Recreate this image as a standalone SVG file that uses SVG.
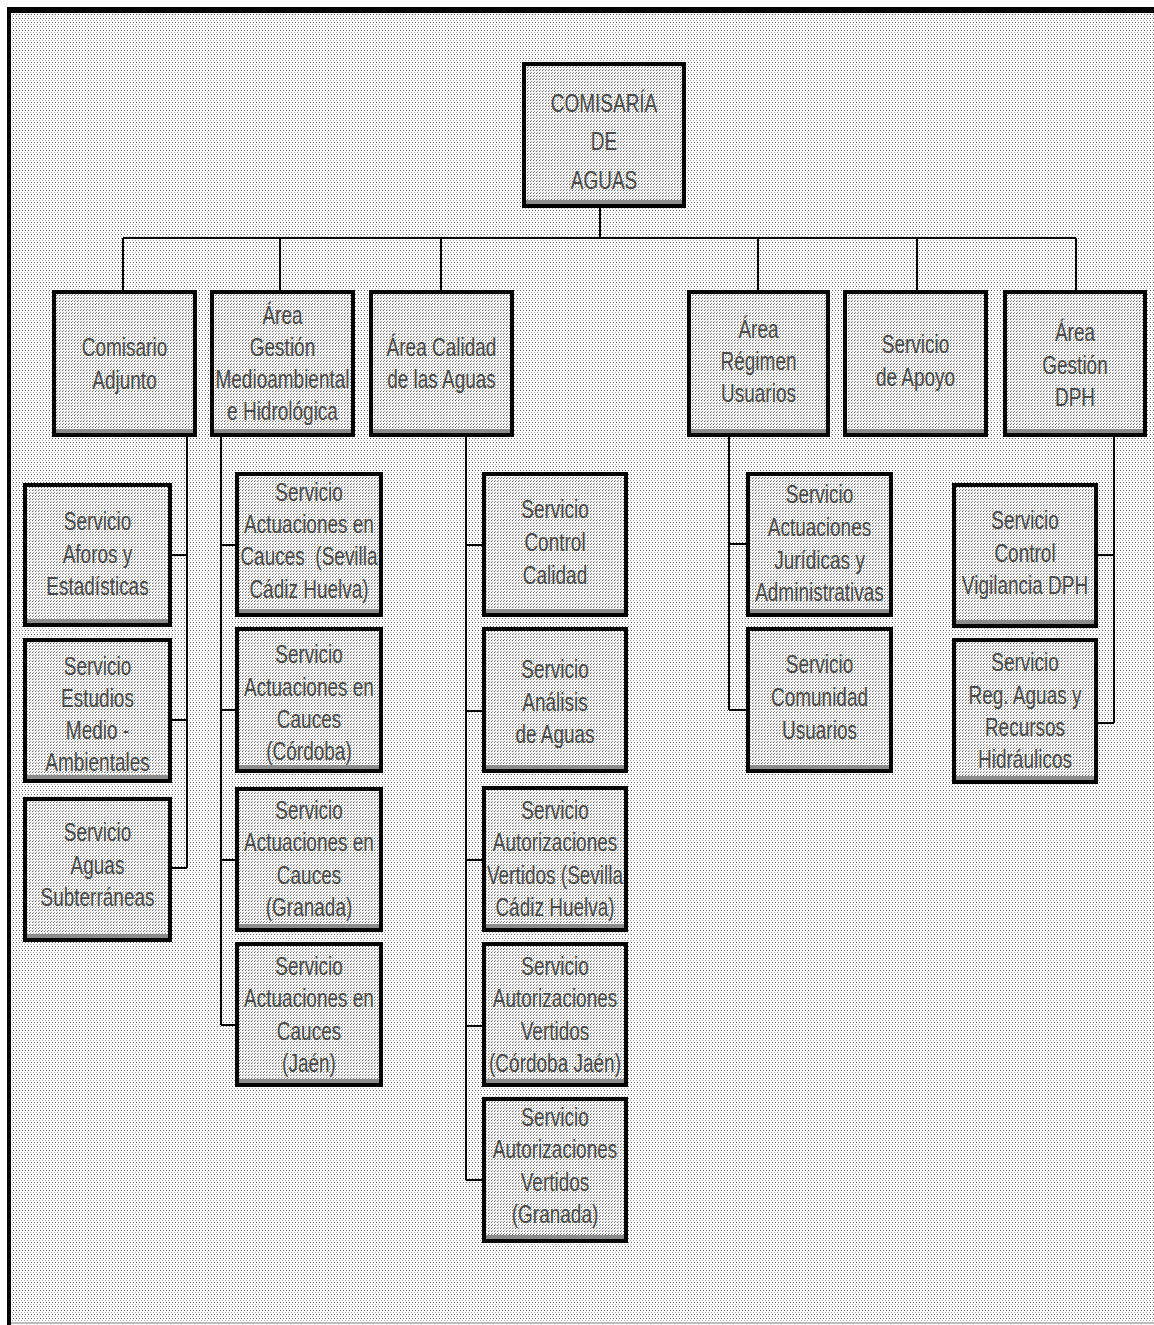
<svg xmlns="http://www.w3.org/2000/svg" width="1154" height="1325" viewBox="0 0 1154 1325">
  <defs>
    <!-- dotted halftone used for the sheet background -->
    <pattern id="dots" width="3" height="4" patternUnits="userSpaceOnUse">
      <rect width="3" height="4" fill="#ffffff"/>
      <rect x="0" y="0" width="1" height="1" fill="#a8a8a8"/>
      <rect x="1" y="2" width="1" height="1" fill="#5a5a5a"/>
    </pattern>
    <!-- denser halftone for box interiors -->
    <pattern id="boxdots" width="3" height="3" patternUnits="userSpaceOnUse">
      <rect width="3" height="3" fill="#f4f4f4"/>
      <rect x="0" y="0" width="1" height="1" fill="#9a9a9a"/>
      <rect x="2" y="1" width="1" height="1" fill="#6a6a6a"/>
    </pattern>
  </defs>
  <style>
    .box { fill: url(#boxdots); stroke: #000; stroke-width: 4; }
    .shade { fill: #8c8c8c; }
    .lbl { font-family: "Liberation Sans", Arial, sans-serif; font-size: 25px; fill: #4a4a4a; text-anchor: middle; }
    .conn { fill: none; stroke: #000; stroke-width: 2; }
  </style>

  <!-- sheet -->
  <rect x="0" y="0" width="1154" height="1325" fill="#ffffff"/>
  <rect x="11" y="13" width="1143" height="1310" fill="url(#dots)"/>
  <rect x="7" y="7" width="1147" height="6" fill="#000"/>
  <rect x="7" y="7" width="4" height="1318" fill="#000"/>
  <rect x="11" y="1322" width="1143" height="2" fill="#bbb"/>

  <!-- connectors -->
  <g id="connectors" class="conn">
    <path d="M600 208 V238 M123 238 H1076"/>
    <path d="M123 238 V290 M280 238 V290 M441 238 V290 M758 238 V290 M917 238 V290 M1076 238 V290"/>
    <path d="M187 437 V868 M172 555 H187 M172 720 H187 M172 868 H187"/>
    <path d="M221 437 V1025 M221 545 H235 M221 710 H235 M221 860 H235 M221 1025 H235"/>
    <path d="M466 437 V1180 M466 545 H482 M466 711 H482 M466 860 H482 M466 1026 H482 M466 1180 H482"/>
    <path d="M729 437 V710 M729 544 H746 M729 710 H746"/>
    <path d="M1114 437 V723 M1098 555 H1114 M1098 723 H1114"/>
  </g>

  <!-- top node -->
  <g id="comisaria">
    <rect class="box" x="524" y="64" width="160" height="142"/>
    <rect class="shade" x="526" y="200" width="156" height="4"/>
    <text class="lbl" transform="matrix(0.76 0 0 1 604 0)"><tspan x="0" y="112">COMISARÍA</tspan><tspan x="0" y="150">DE</tspan><tspan x="0" y="189">AGUAS</tspan></text>
  </g>

  <!-- second level -->
  <g id="comisario-adjunto">
    <rect class="box" x="54" y="292" width="141" height="143"/>
    <rect class="shade" x="56" y="429" width="137" height="4"/>
    <text class="lbl" transform="matrix(0.76 0 0 1 124.5 0)"><tspan x="0" y="356">Comisario</tspan><tspan x="0" y="389">Adjunto</tspan></text>
  </g>
  <g id="area-gestion-medioambiental">
    <rect class="box" x="212" y="292" width="141" height="143"/>
    <rect class="shade" x="214" y="429" width="137" height="4"/>
    <text class="lbl" transform="matrix(0.76 0 0 1 282.5 0)"><tspan x="0" y="324">Área</tspan><tspan x="0" y="356">Gestión</tspan><tspan x="0" y="388">Medioambiental</tspan><tspan x="0" y="420">e Hidrológica</tspan></text>
  </g>
  <g id="area-calidad">
    <rect class="box" x="371" y="292" width="141" height="143"/>
    <rect class="shade" x="373" y="429" width="137" height="4"/>
    <text class="lbl" transform="matrix(0.76 0 0 1 441.5 0)"><tspan x="0" y="356">Área Calidad</tspan><tspan x="0" y="388">de las Aguas</tspan></text>
  </g>
  <g id="area-regimen-usuarios">
    <rect class="box" x="689" y="292" width="139" height="143"/>
    <rect class="shade" x="691" y="429" width="135" height="4"/>
    <text class="lbl" transform="matrix(0.76 0 0 1 758.5 0)"><tspan x="0" y="338">Área</tspan><tspan x="0" y="370">Régimen</tspan><tspan x="0" y="402">Usuarios</tspan></text>
  </g>
  <g id="servicio-apoyo">
    <rect class="box" x="845" y="292" width="141" height="143"/>
    <rect class="shade" x="847" y="429" width="137" height="4"/>
    <text class="lbl" transform="matrix(0.76 0 0 1 915.5 0)"><tspan x="0" y="353">Servicio</tspan><tspan x="0" y="386">de Apoyo</tspan></text>
  </g>
  <g id="area-gestion-dph">
    <rect class="box" x="1005" y="292" width="140" height="143"/>
    <rect class="shade" x="1007" y="429" width="136" height="4"/>
    <text class="lbl" transform="matrix(0.76 0 0 1 1075 0)"><tspan x="0" y="341">Área</tspan><tspan x="0" y="374">Gestión</tspan><tspan x="0" y="406">DPH</tspan></text>
  </g>

  <!-- under Comisario Adjunto -->
  <g id="serv-aforos">
    <rect class="box" x="25" y="485" width="145" height="140"/>
    <rect class="shade" x="27" y="619" width="141" height="4"/>
    <text class="lbl" transform="matrix(0.76 0 0 1 97.5 0)"><tspan x="0" y="530">Servicio</tspan><tspan x="0" y="563">Aforos y</tspan><tspan x="0" y="595">Estadísticas</tspan></text>
  </g>
  <g id="serv-estudios">
    <rect class="box" x="25" y="640" width="145" height="141"/>
    <rect class="shade" x="27" y="775" width="141" height="4"/>
    <text class="lbl" transform="matrix(0.76 0 0 1 97.5 0)"><tspan x="0" y="675">Servicio</tspan><tspan x="0" y="707">Estudios</tspan><tspan x="0" y="739">Medio -</tspan><tspan x="0" y="771">Ambientales</tspan></text>
  </g>
  <g id="serv-subterraneas">
    <rect class="box" x="25" y="799" width="145" height="141"/>
    <rect class="shade" x="27" y="934" width="141" height="4"/>
    <text class="lbl" transform="matrix(0.76 0 0 1 97.5 0)"><tspan x="0" y="841">Servicio</tspan><tspan x="0" y="874">Aguas</tspan><tspan x="0" y="906">Subterráneas</tspan></text>
  </g>

  <!-- under Área Gestión Medioambiental -->
  <g id="serv-cauces-sevilla">
    <rect class="box" x="237" y="474" width="144" height="141"/>
    <rect class="shade" x="239" y="609" width="140" height="4"/>
    <text class="lbl" transform="matrix(0.76 0 0 1 309 0)"><tspan x="0" y="501">Servicio</tspan><tspan x="0" y="533">Actuaciones en</tspan><tspan x="0" y="565">Cauces&#160; (Sevilla</tspan><tspan x="0" y="598">Cádiz Huelva)</tspan></text>
  </g>
  <g id="serv-cauces-cordoba">
    <rect class="box" x="237" y="629" width="144" height="142"/>
    <rect class="shade" x="239" y="765" width="140" height="4"/>
    <text class="lbl" transform="matrix(0.76 0 0 1 309 0)"><tspan x="0" y="663">Servicio</tspan><tspan x="0" y="696">Actuaciones en</tspan><tspan x="0" y="728">Cauces</tspan><tspan x="0" y="760">(Córdoba)</tspan></text>
  </g>
  <g id="serv-cauces-granada">
    <rect class="box" x="237" y="789" width="144" height="141"/>
    <rect class="shade" x="239" y="924" width="140" height="4"/>
    <text class="lbl" transform="matrix(0.76 0 0 1 309 0)"><tspan x="0" y="819">Servicio</tspan><tspan x="0" y="851">Actuaciones en</tspan><tspan x="0" y="884">Cauces</tspan><tspan x="0" y="916">(Granada)</tspan></text>
  </g>
  <g id="serv-cauces-jaen">
    <rect class="box" x="237" y="944" width="144" height="141"/>
    <rect class="shade" x="239" y="1079" width="140" height="4"/>
    <text class="lbl" transform="matrix(0.76 0 0 1 309 0)"><tspan x="0" y="975">Servicio</tspan><tspan x="0" y="1007">Actuaciones en</tspan><tspan x="0" y="1040">Cauces</tspan><tspan x="0" y="1072">(Jaén)</tspan></text>
  </g>

  <!-- under Área Calidad de las Aguas -->
  <g id="serv-control-calidad">
    <rect class="box" x="484" y="474" width="142" height="141"/>
    <rect class="shade" x="486" y="609" width="138" height="4"/>
    <text class="lbl" transform="matrix(0.76 0 0 1 555 0)"><tspan x="0" y="518">Servicio</tspan><tspan x="0" y="551">Control</tspan><tspan x="0" y="584">Calidad</tspan></text>
  </g>
  <g id="serv-analisis">
    <rect class="box" x="484" y="629" width="142" height="142"/>
    <rect class="shade" x="486" y="765" width="138" height="4"/>
    <text class="lbl" transform="matrix(0.76 0 0 1 555 0)"><tspan x="0" y="678">Servicio</tspan><tspan x="0" y="711">Análisis</tspan><tspan x="0" y="743">de Aguas</tspan></text>
  </g>
  <g id="serv-vertidos-sevilla">
    <rect class="box" x="484" y="788" width="142" height="142"/>
    <rect class="shade" x="486" y="924" width="138" height="4"/>
    <text class="lbl" transform="matrix(0.76 0 0 1 555 0)"><tspan x="0" y="819">Servicio</tspan><tspan x="0" y="851">Autorizaciones</tspan><tspan x="0" y="884">Vertidos (Sevilla</tspan><tspan x="0" y="916">Cádiz Huelva)</tspan></text>
  </g>
  <g id="serv-vertidos-cordoba">
    <rect class="box" x="484" y="944" width="142" height="141"/>
    <rect class="shade" x="486" y="1079" width="138" height="4"/>
    <text class="lbl" transform="matrix(0.76 0 0 1 555 0)"><tspan x="0" y="975">Servicio</tspan><tspan x="0" y="1007">Autorizaciones</tspan><tspan x="0" y="1040">Vertidos</tspan><tspan x="0" y="1072">(Córdoba Jaén)</tspan></text>
  </g>
  <g id="serv-vertidos-granada">
    <rect class="box" x="484" y="1099" width="142" height="142"/>
    <rect class="shade" x="486" y="1235" width="138" height="4"/>
    <text class="lbl" transform="matrix(0.76 0 0 1 555 0)"><tspan x="0" y="1126">Servicio</tspan><tspan x="0" y="1158">Autorizaciones</tspan><tspan x="0" y="1191">Vertidos</tspan><tspan x="0" y="1223">(Granada)</tspan></text>
  </g>

  <!-- under Área Régimen Usuarios -->
  <g id="serv-juridicas">
    <rect class="box" x="748" y="474" width="143" height="141"/>
    <rect class="shade" x="750" y="609" width="139" height="4"/>
    <text class="lbl" transform="matrix(0.76 0 0 1 819.5 0)"><tspan x="0" y="503">Servicio</tspan><tspan x="0" y="536">Actuaciones</tspan><tspan x="0" y="569">Jurídicas y</tspan><tspan x="0" y="601">Administrativas</tspan></text>
  </g>
  <g id="serv-comunidad">
    <rect class="box" x="748" y="629" width="143" height="142"/>
    <rect class="shade" x="750" y="765" width="139" height="4"/>
    <text class="lbl" transform="matrix(0.76 0 0 1 819.5 0)"><tspan x="0" y="673">Servicio</tspan><tspan x="0" y="706">Comunidad</tspan><tspan x="0" y="739">Usuarios</tspan></text>
  </g>

  <!-- under Área Gestión DPH -->
  <g id="serv-vigilancia">
    <rect class="box" x="954" y="485" width="142" height="141"/>
    <rect class="shade" x="956" y="620" width="138" height="4"/>
    <text class="lbl" transform="matrix(0.76 0 0 1 1025 0)"><tspan x="0" y="529">Servicio</tspan><tspan x="0" y="562">Control</tspan><tspan x="0" y="594">Vigilancia DPH</tspan></text>
  </g>
  <g id="serv-reg-aguas">
    <rect class="box" x="954" y="640" width="142" height="142"/>
    <rect class="shade" x="956" y="776" width="138" height="4"/>
    <text class="lbl" transform="matrix(0.76 0 0 1 1025 0)"><tspan x="0" y="671">Servicio</tspan><tspan x="0" y="704">Reg. Aguas y</tspan><tspan x="0" y="736">Recursos</tspan><tspan x="0" y="768">Hidráulicos</tspan></text>
  </g>
</svg>
